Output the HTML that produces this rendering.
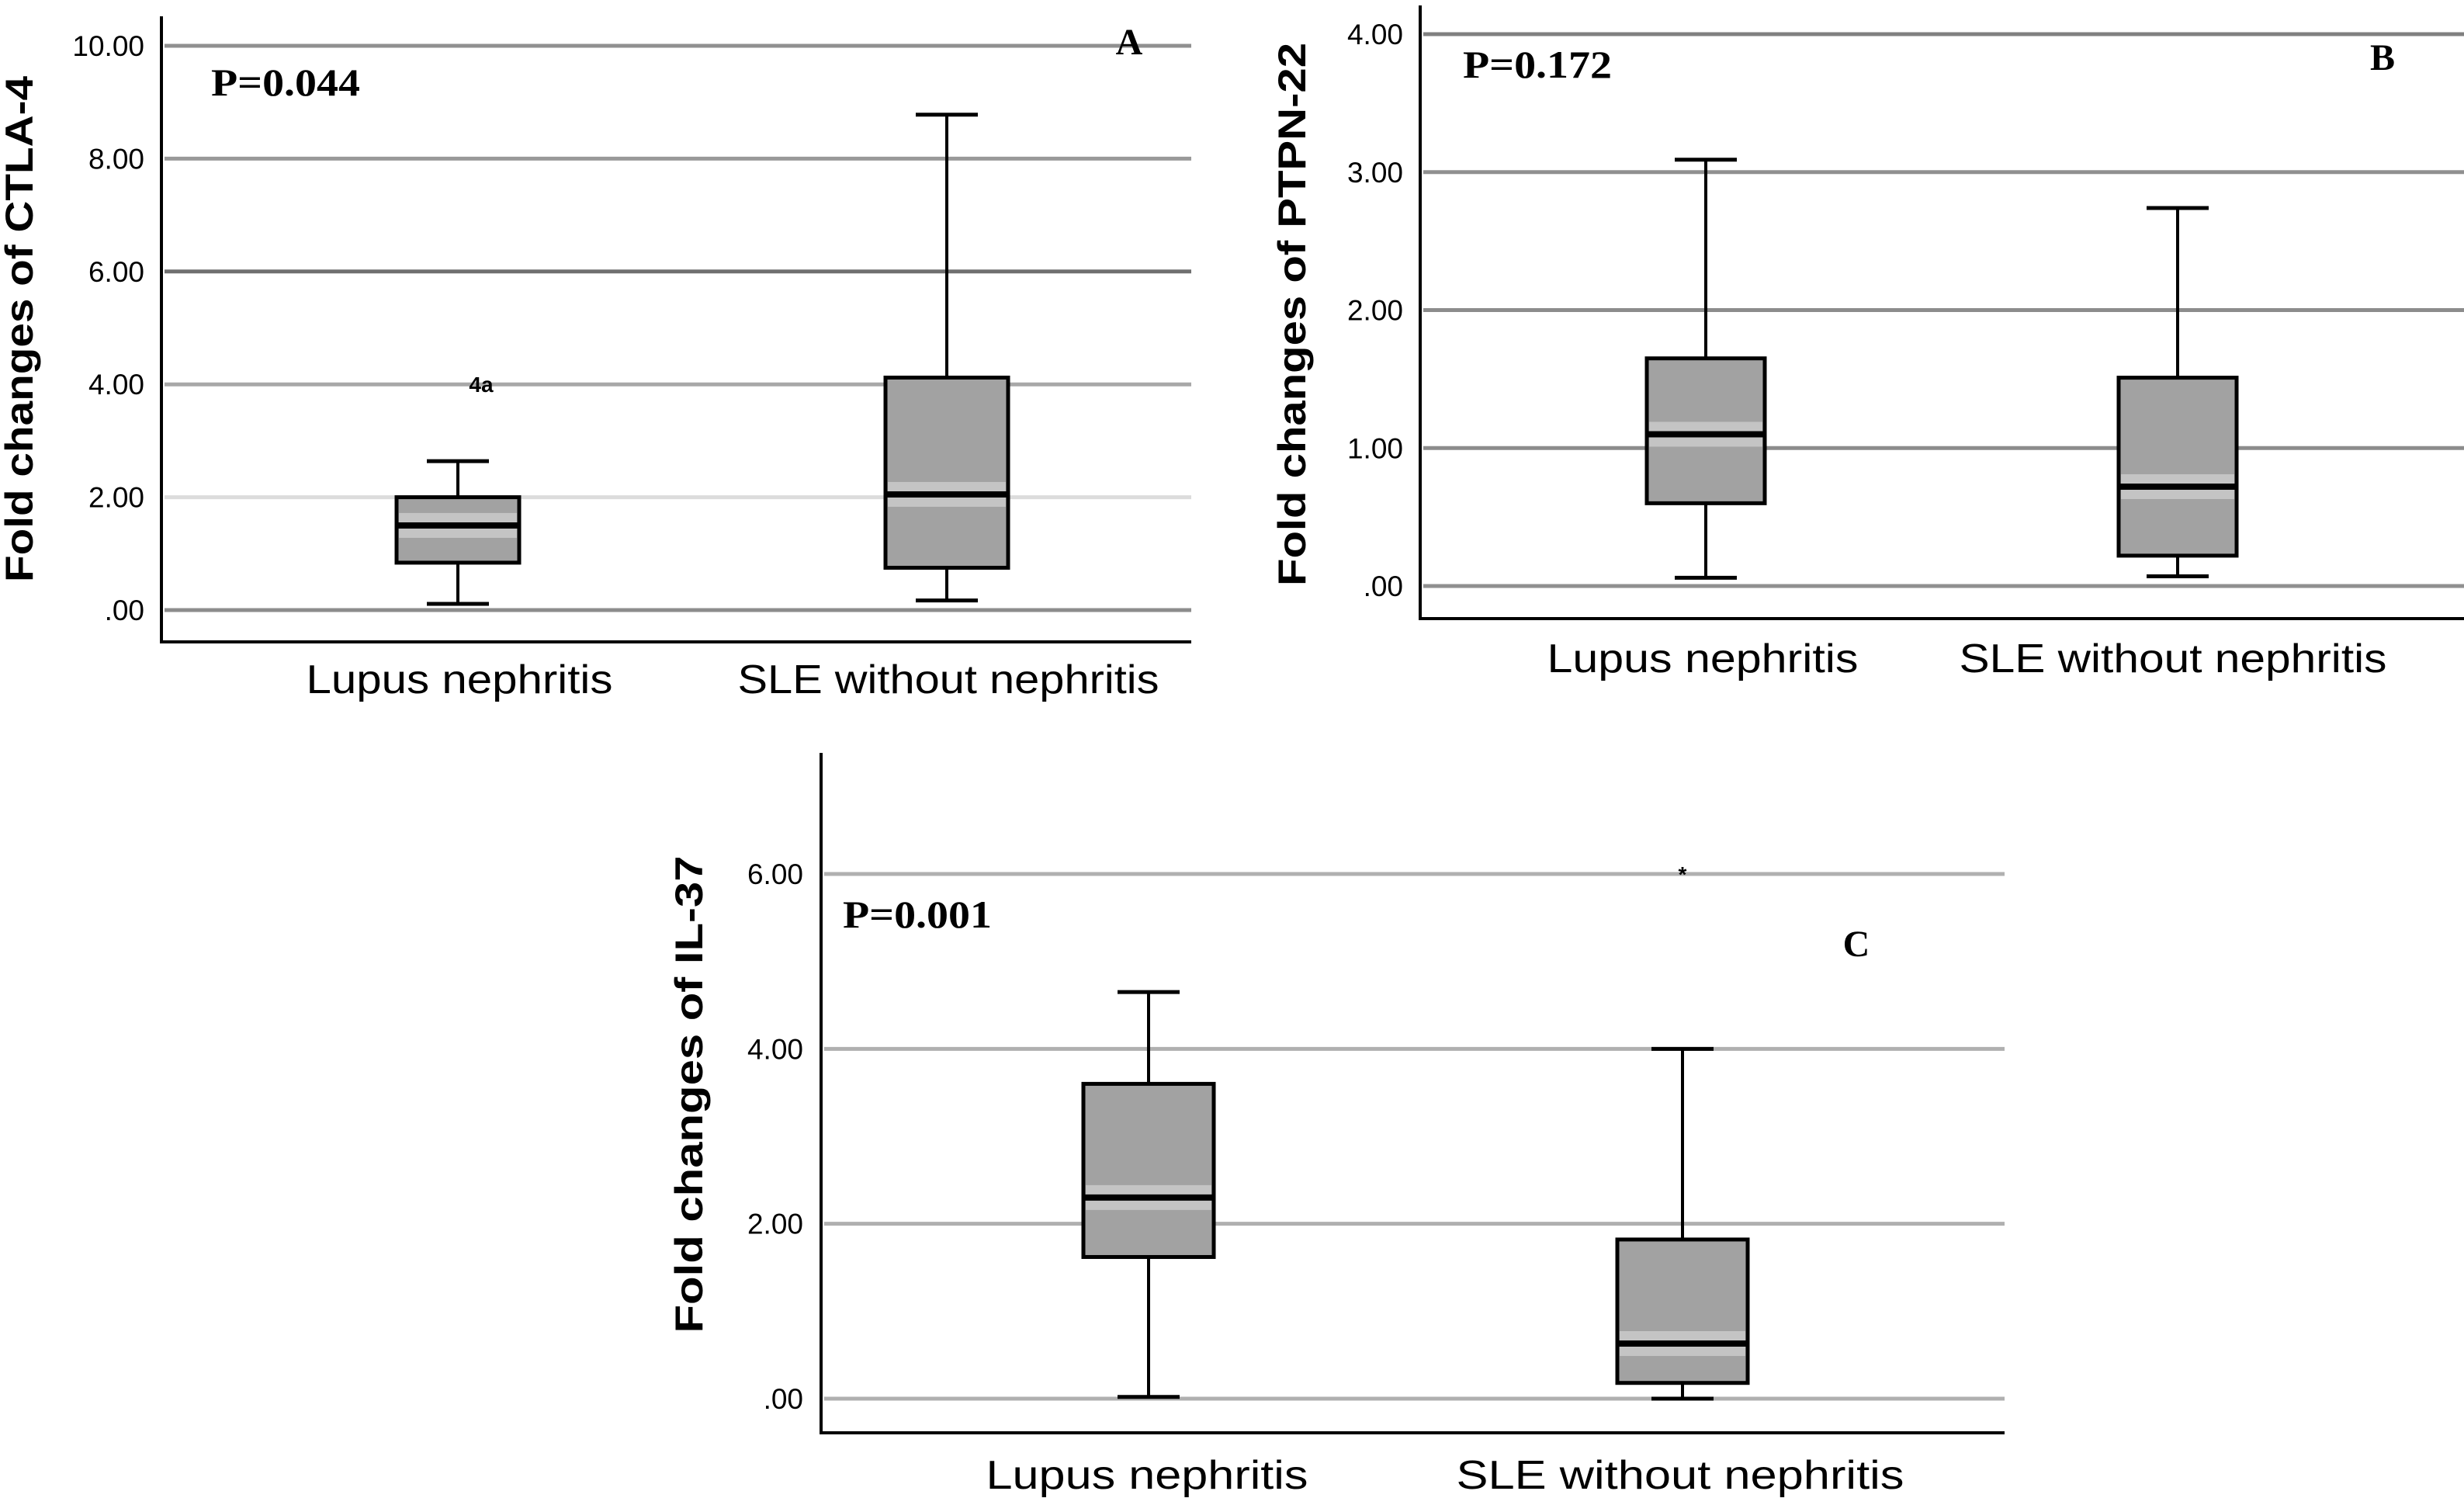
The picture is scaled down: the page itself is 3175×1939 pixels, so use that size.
<!DOCTYPE html>
<html><head><meta charset="utf-8"><style>
html,body{margin:0;padding:0;background:#fff;}
svg{display:block;}
</style></head><body>
<svg id="fig" width="3175" height="1939" viewBox="0 0 3175 1939" xmlns="http://www.w3.org/2000/svg" font-family="'Liberation Sans', sans-serif">
</svg>
<script>
// Panel A: CTLA-4
const categories = ["Lupus nephritis", "SLE without nephritis"];
const aTicks = [0, 2, 4, 6, 8, 10];
const aTickLabels = [".00", "2.00", "4.00", "6.00", "8.00", "10.00"];
const aWhiskLow = [0.11, 0.17];
const aQ1 = [0.84, 0.75];
const aMedian = [1.5, 2.05];
const aQ3 = [2.0, 4.12];
const aWhiskHigh = [2.64, 8.78];
const aOutliers = [4.0, null];
// Panel B: PTPN-22
const bTicks = [0, 1, 2, 3, 4];
const bTickLabels = [".00", "1.00", "2.00", "3.00", "4.00"];
const bWhiskLow = [0.06, 0.07];
const bQ1 = [0.6, 0.22];
const bMedian = [1.1, 0.72];
const bQ3 = [1.65, 1.51];
const bWhiskHigh = [3.09, 2.74];
// Panel C: IL-37
const cTicks = [0, 2, 4, 6];
const cTickLabels = [".00", "2.00", "4.00", "6.00"];
const cWhiskLow = [0.02, 0.0];
const cQ1 = [1.62, 0.18];
const cMedian = [2.3, 0.63];
const cQ3 = [3.6, 1.82];
const cWhiskHigh = [4.65, 4.0];
const cOutliers = [null, 6.0];

const NS = "http://www.w3.org/2000/svg";
const svg = document.getElementById("fig");
function mk(tag, attrs, parent) {
  const e = document.createElementNS(NS, tag);
  for (const k in attrs) e.setAttribute(k, attrs[k]);
  (parent || svg).appendChild(e);
  return e;
}

function panel(cfg) {
  const g = mk("g", {});
  
  
  const y = v => cfg.y0 - (v - cfg.vmin) * (cfg.y0 - cfg.yTop) / (cfg.vmax - cfg.vmin);
  cfg.ticks.forEach((t, i) => {
    const gl = mk("line", {x1: cfg.axX + 4, x2: cfg.right, y1: y(t), y2: y(t), stroke: cfg.gridColors[i] || "#909090", "stroke-width": 5}, g);
    
    
    const tl = mk("text", {x: cfg.tickX, y: y(t) + 13, "text-anchor": "end", "font-size": 37, fill: "#000"}, g);
    tl.textContent = cfg.tickLabels[i];
    
    
  });
  const ax = mk("path", {d: `M${cfg.axX},${cfg.axTop} V${cfg.axBottom} H${cfg.right}`, fill: "none", stroke: "#000", "stroke-width": 4}, g);
  
  
  cfg.centers.forEach((cx, i) => {
    const bg = mk("g", {}, g);
    
    
    const hw = cfg.boxW / 2, cw = 40;
    mk("line", {x1: cx, x2: cx, y1: y(cfg.hi[i]), y2: y(cfg.q3[i]), stroke: "#000", "stroke-width": 4}, bg);
    mk("line", {x1: cx, x2: cx, y1: y(cfg.q1[i]), y2: y(cfg.lo[i]), stroke: "#000", "stroke-width": 4}, bg);
    mk("line", {x1: cx - cw, x2: cx + cw, y1: y(cfg.hi[i]), y2: y(cfg.hi[i]), stroke: "#000", "stroke-width": 5}, bg);
    mk("line", {x1: cx - cw, x2: cx + cw, y1: y(cfg.lo[i]), y2: y(cfg.lo[i]), stroke: "#000", "stroke-width": 5}, bg);
    mk("rect", {x: cx - hw, y: y(cfg.q3[i]), width: cfg.boxW, height: y(cfg.q1[i]) - y(cfg.q3[i]), fill: "#a2a2a2", stroke: "#000", "stroke-width": 5}, bg);
    mk("rect", {x: cx - hw + 3, y: y(cfg.med[i]) - 16, width: cfg.boxW - 6, height: 32, fill: "#c4c4c4"}, bg);
    mk("line", {x1: cx - hw, x2: cx + hw, y1: y(cfg.med[i]), y2: y(cfg.med[i]), stroke: "#000", "stroke-width": 8}, bg);
    if (cfg.out && cfg.out[i] != null) {
      const o = mk("text", {x: cx + cfg.outDx, y: y(cfg.out[i]) + 10, "text-anchor": "middle", "font-size": 28, "font-weight": "bold", fill: "#000"}, bg);
      o.textContent = cfg.outLabel;
      
      
    }
    const cl = mk("text", {x: cfg.labelX[i], y: cfg.labelY, "text-anchor": "middle", "font-size": 52, textLength: cfg.labelW[i], lengthAdjust: "spacingAndGlyphs", fill: "#000"}, g);
    cl.textContent = categories[i];
    
    
  });
  const yt = mk("text", {x: 0, y: 0, transform: `translate(${cfg.titleX},${cfg.titleY}) rotate(-90)`, "text-anchor": "middle", "font-size": 50, "font-weight": "bold", textLength: cfg.titleW, lengthAdjust: "spacingAndGlyphs", fill: "#000"}, g);
  yt.textContent = cfg.title;
  
  
  const p = mk("text", {x: cfg.pX, y: cfg.pY, "font-family": "'Liberation Serif', serif", "font-weight": "bold", "font-size": 50, textLength: 192, lengthAdjust: "spacingAndGlyphs", fill: "#000"}, g);
  p.textContent = cfg.pText;
  
  
  const L = mk("text", {x: cfg.letX, y: cfg.letY, "text-anchor": "middle", "font-family": "'Liberation Serif', serif", "font-weight": "bold", "font-size": 48, fill: "#000"}, g);
  L.textContent = cfg.letter;
  
  
}

panel({name: "panel-a-ctla4", vmin: 0, vmax: 10, y0: 786, yTop: 59, axX: 208, axTop: 21, axBottom: 827, right: 1535, tickX: 186,
  ticks: aTicks, tickLabels: aTickLabels, gridColors: ["#8c8c8c", "#dcdcdc", "#a8a8a8", "#707070", "#999", "#909090"],
  centers: [590, 1220], boxW: 158, lo: aWhiskLow, q1: aQ1, med: aMedian, q3: aQ3, hi: aWhiskHigh, out: aOutliers, outLabel: "4a", outDx: 30,
  labelX: [592, 1222], labelY: 893, labelW: [395, 543], title: "Fold changes of CTLA-4", titleX: 42, titleY: 424, titleW: 652,
  pText: "P=0.044", pX: 272, pY: 123, letter: "A", letX: 1455, letY: 70});

panel({name: "panel-b-ptpn22", vmin: 0, vmax: 4, y0: 755, yTop: 44, axX: 1830, axTop: 7, axBottom: 797, right: 3175, tickX: 1808,
  ticks: bTicks, tickLabels: bTickLabels, gridColors: ["#909090", "#8c8c8c", "#8c8c8c", "#909090", "#808080"],
  centers: [2198, 2806], boxW: 152, lo: bWhiskLow, q1: bQ1, med: bMedian, q3: bQ3, hi: bWhiskHigh, out: null,
  labelX: [2194, 2800], labelY: 866, labelW: [401, 551], title: "Fold changes of PTPN-22", titleX: 1682, titleY: 405, titleW: 700,
  pText: "P=0.172", pX: 1885, pY: 100, letter: "B", letX: 3070, letY: 90});

panel({name: "panel-c-il37", vmin: 0, vmax: 6, y0: 1802, yTop: 1126, axX: 1058, axTop: 970, axBottom: 1846, right: 2583, tickX: 1035,
  ticks: cTicks, tickLabels: cTickLabels, gridColors: ["#b0b0b0", "#b0b0b0", "#b0b0b0", "#b0b0b0"],
  centers: [1480, 2168], boxW: 168, lo: cWhiskLow, q1: cQ1, med: cMedian, q3: cQ3, hi: cWhiskHigh, out: cOutliers, outLabel: "*", outDx: 0,
  labelX: [1478, 2165], labelY: 1918, labelW: [415, 577], title: "Fold changes of IL-37", titleX: 905, titleY: 1410, titleW: 615,
  pText: "P=0.001", pX: 1086, pY: 1195, letter: "C", letX: 2392, letY: 1232});
</script>
</body></html>
